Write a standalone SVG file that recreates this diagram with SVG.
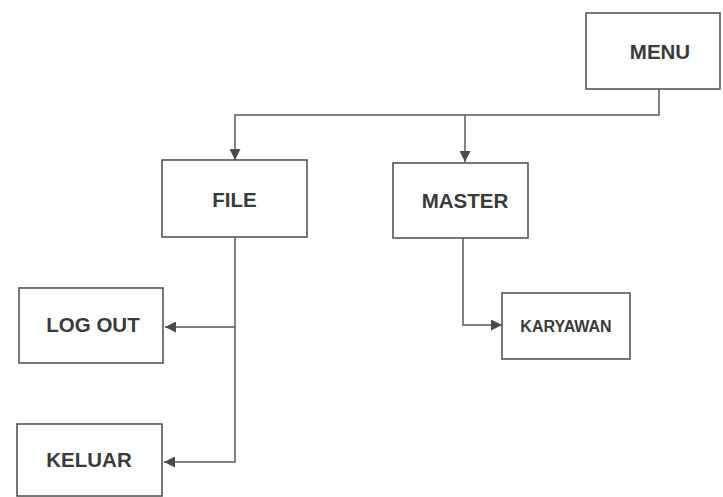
<svg xmlns="http://www.w3.org/2000/svg" width="723" height="497" viewBox="0 0 723 497">
<defs>
<marker id="arr" viewBox="0 0 10 10" refX="10" refY="5" markerWidth="11" markerHeight="11" markerUnits="userSpaceOnUse" orient="auto">
<path d="M0,0 L10,5 L0,10 Z" fill="#4a4a4a"/>
</marker>
<style>
.box{fill:#fff;stroke:#555;stroke-width:1.6}
.lbl{font-family:"Liberation Sans",Arial,sans-serif;font-weight:bold;font-size:20.5px;fill:#3a3a3a;text-anchor:middle}
.small{font-size:16px}
.con{fill:none;stroke:#5a5a5a;stroke-width:1.5}
</style>
</defs>
<rect width="723" height="497" fill="#fff"/>
<g id="connectors">
<path class="con" d="M659,89 V115 H235 V160" marker-end="url(#arr)"/>
<path class="con" d="M465,115 V162" marker-end="url(#arr)"/>
<path class="con" d="M235,237 V462 H164" marker-end="url(#arr)"/>
<path class="con" d="M235,327 H165" marker-end="url(#arr)"/>
<path class="con" d="M463,238 V325 H502" marker-end="url(#arr)"/>
</g>
<g id="menu">
<rect class="box" x="586" y="13" width="134" height="76"/>
<text class="lbl" x="660" y="59">MENU</text>
</g>
<g id="file">
<rect class="box" x="162" y="160" width="145" height="77"/>
<text class="lbl" x="234.5" y="207">FILE</text>
</g>
<g id="master">
<rect class="box" x="393" y="163" width="135" height="75"/>
<text class="lbl" x="465" y="208">MASTER</text>
</g>
<g id="logout">
<rect class="box" x="19" y="288" width="144" height="75"/>
<text class="lbl" x="93" y="332">LOG OUT</text>
</g>
<g id="keluar">
<rect class="box" x="17" y="424" width="145" height="72"/>
<text class="lbl" x="89" y="467">KELUAR</text>
</g>
<g id="karyawan">
<rect class="box" x="502" y="293" width="128" height="66"/>
<text class="lbl small" x="566" y="332">KARYAWAN</text>
</g>
</svg>
